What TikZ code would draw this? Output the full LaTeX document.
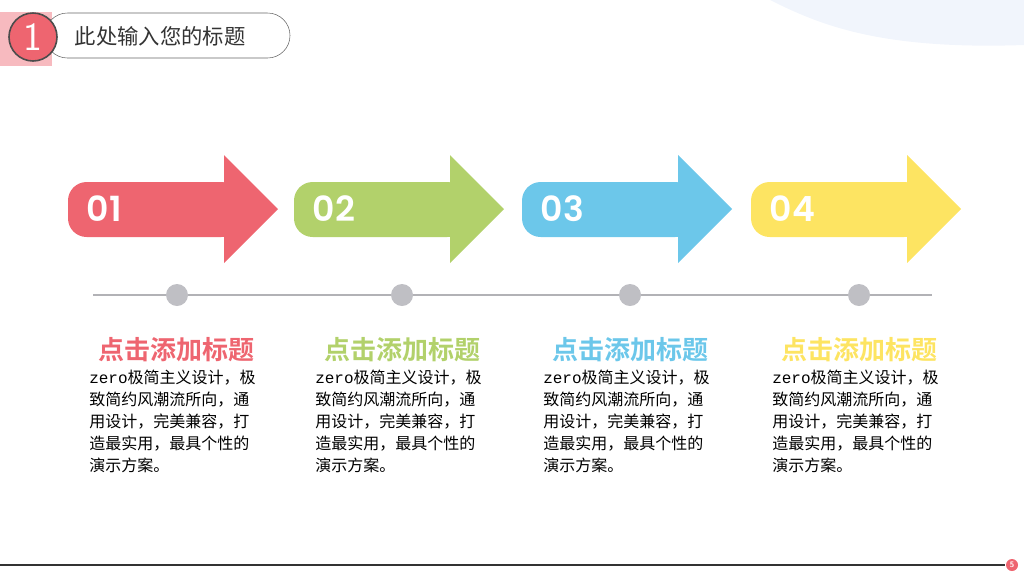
\documentclass[tikz,border=0pt]{standalone}
\usepackage{fontspec}
\newfontfamily\cjk{Noto Sans CJK SC}
\newfontfamily\cjkb{Noto Sans CJK SC Bold}
\newfontfamily\pop{Poppins SemiBold}
\newfontfamily\mono{Liberation Mono}
\definecolor{cr}{HTML}{EE6570}
\definecolor{cg}{HTML}{B2D16B}
\definecolor{cb}{HTML}{6CC7EA}
\definecolor{cy}{HTML}{FDE462}
\definecolor{dotc}{HTML}{BFBFC4}
\definecolor{blob}{HTML}{F1F5FC}
\begin{document}
\begin{tikzpicture}[x=0.75pt,y=-0.75pt,
  numtxt/.style={text=white,font=\pop\fontsize{26}{26}\selectfont,anchor=west},
  ttl/.style={font=\cjkb\fontsize{19.5}{19.5}\selectfont},
  body/.style={font=\cjk\fontsize{12}{16.5}\selectfont,anchor=north west,align=left,text width=140pt,inner sep=0pt},
  dotn/.style={circle,fill=dotc,minimum size=16.5pt,inner sep=0pt}]
\useasboundingbox (0,0) rectangle (1024,576);
\fill[blob] (770,0) .. controls (820,25) and (880,50) .. (1024,45) -- (1024,0) -- cycle;
% header
\fill[cr!45] (0,12) rectangle (52,66);
\draw[gray!80!black,fill=white,rounded corners=16.8pt] (45,13) rectangle (290,58);
\node[circle,fill=cr,draw=black!70,line width=1.2pt,minimum size=36pt,text=white,font=\sffamily\fontsize{30}{30}\selectfont] (c1) at (33,37) {1};
\node[anchor=west,font=\cjk\fontsize{16}{16}\selectfont,text=black!80] (h) at (70,36) {此处输入您的标题};
% arrows
\foreach \o/\c/\n [count=\i] in {0/cr/01,226/cg/02,454/cb/03,683/cy/04}{
  \fill[\c,rounded corners=14pt] (68+\o,182) rectangle (240+\o,237);
  \fill[\c] (224+\o,182) -- (224+\o,155) -- (278+\o,209) -- (224+\o,263) -- (224+\o,237) -- cycle;
  \node[numtxt] (n\i) at (82+\o,209) {\n};
}
\draw[dotc!80!gray,line width=1pt] (93,295) -- (932,295);
\foreach \x [count=\i] in {177,402,630,859} \node[dotn] (d\i) at (\x,295) {};
\foreach \o/\c [count=\i] in {0/cr,226/cg,454/cb,683/cy}{
  \node[ttl,text=\c] (t\i) at (176+\o,350) {点击添加标题};
  \node[body] (b\i) at (89+\o,370) {{\mono zero}极简主义设计，极\\致简约风潮流所向，通\\用设计，完美兼容，打\\造最实用，最具个性的\\演示方案。};
}
\draw[black!80,line width=0.8pt] (0,565) -- (1005,565);
\node[circle,fill=cr,inner sep=0pt,minimum size=9pt,text=white,font=\sffamily\bfseries\fontsize{6}{6}\selectfont] (pg) at (1012,565) {5};
\end{tikzpicture}
\end{document}
